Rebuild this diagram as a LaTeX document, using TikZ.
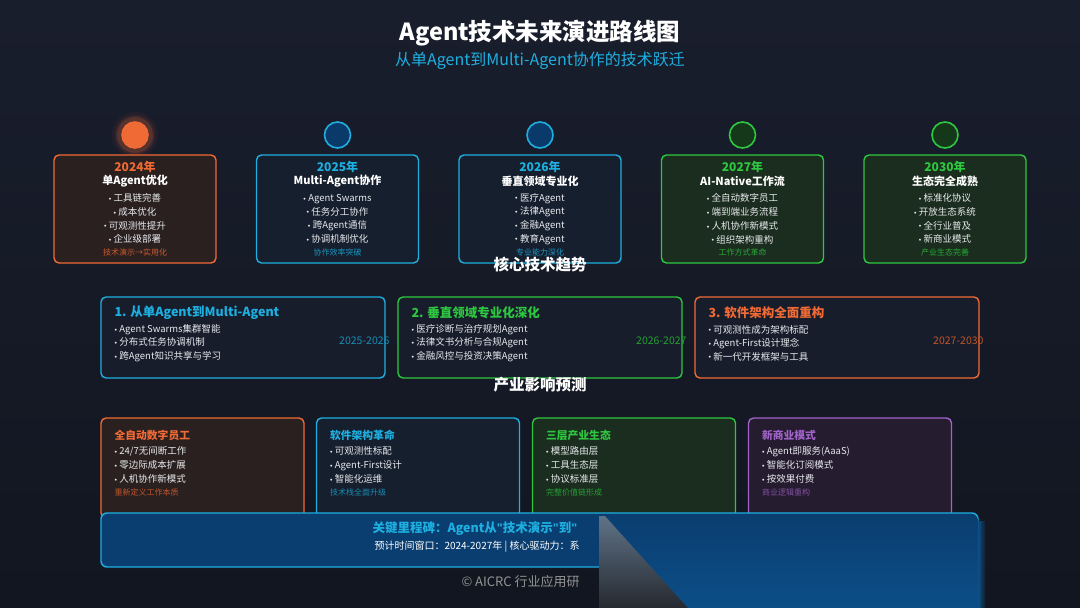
\documentclass[tikz,border=0pt]{standalone}
\usepackage{fontspec}
\setmainfont{Noto Sans CJK SC}
\newfontfamily\latinfont{Liberation Sans}
\usepackage{tikz}
\usetikzlibrary{calc,positioning}

\definecolor{bgtop}{RGB}{25,30,45}
\definecolor{bgbot}{RGB}{18,22,32}
\definecolor{ora}{RGB}{240,106,53}
\definecolor{cya}{RGB}{30,175,225}
\definecolor{grn}{RGB}{46,200,64}
\definecolor{pur}{RGB}{160,100,200}
\definecolor{orabg}{RGB}{42,32,32}
\definecolor{cyabg}{RGB}{22,31,46}
\definecolor{grnbg}{RGB}{27,45,31}
\definecolor{purbg}{RGB}{38,28,48}
\definecolor{cardbg}{RGB}{23,29,43}
\definecolor{milebg}{RGB}{10,62,112}
\definecolor{dotblue}{RGB}{10,58,105}
\definecolor{dotgreen}{RGB}{22,56,26}
\definecolor{txt}{RGB}{232,234,238}

\newcommand\fs[2]{\fontsize{#1}{#2}\selectfont}
\newcommand\bul{{\latinfont\fontsize{7}{7}\selectfont\raisebox{0.3pt}{•}}\hspace{2.5pt}}
\newcommand\dq{{\latinfont\bfseries"}}

\tikzset{
  every node/.style={inner sep=0pt, text=txt},
  tlbox/.style={draw=#1, line width=1.4pt, rounded corners=5pt, minimum width=162pt, minimum height=108pt},
  trbox/.style={draw=#1, fill=cardbg, line width=1.4pt, rounded corners=5pt, minimum width=284pt, minimum height=81pt},
  imbox/.style={draw=#1, line width=1.4pt, rounded corners=5pt, minimum width=203pt, minimum height=100pt},
  yeardot/.style={circle, draw=#1, line width=1.6pt, minimum size=26pt},
  heading/.style={font=\bfseries\fs{15.5}{18}, text=white},
}

\begin{document}
\begin{tikzpicture}[x=1pt,y=-1pt]
    \useasboundingbox (0,0) rectangle (1080,608);
    \shade[top color=bgtop, bottom color=bgbot] (0,0) rectangle (1080,608);

    \node[font=\bfseries\fs{23.5}{28}, text=white] (title) at (540,33) {Agent技术未来演进路线图};
    \node[font=\fs{16}{19}, text=cya] (subtitle) at (540,61) {从单Agent到Multi-Agent协作的技术跃迁};

    % timeline
    \foreach \r/\o in {23/0.05,20/0.1,18/0.18}
      \fill[ora, opacity=\o] (135,135) circle (\r);
    \foreach \i/\cx/\col/\fil/\dc/\yr/\ttl/\ba/\bb/\bc/\bd/\ft in {
      1/135/ora/orabg/ora/2024年/单Agent优化/工具链完善/成本优化/可观测性提升/企业级部署/技术演示→实用化,
      2/337.5/cya/cyabg/dotblue/2025年/Multi-Agent协作/Agent Swarms/任务分工协作/跨Agent通信/协调机制优化/协作效率突破,
      3/540/cya/cyabg/dotblue/2026年/垂直领域专业化/医疗Agent/法律Agent/金融Agent/教育Agent/专业能力深化,
      4/742.5/grn/grnbg/dotgreen/2027年/AI-Native工作流/全自动数字员工/端到端业务流程/人机协作新模式/组织架构重构/工作方式革命,
      5/945/grn/grnbg/dotgreen/2030年/生态完全成熟/标准化协议/开放生态系统/全行业普及/新商业模式/产业生态完善}
    {
      \node[yeardot=\col, fill=\dc] (dot\i) at (\cx,135) {};
      \node[tlbox=\col, fill=\fil] (tl\i) at (\cx,209) {};
      \node[font=\bfseries\fs{12}{14}, text=\col] (yr\i) at ($(tl\i.north)+(0,13)$) {\yr};
      \node[font=\bfseries\fs{11}{13}, text=white] (tt\i) at ($(tl\i.north)+(0,27)$) {\ttl};
      \node[font=\fs{9.5}{13.7}, align=center] (bl\i) at ($(tl\i.north)+(0,64.5)$) {\bul\ba\\\bul\bb\\\bul\bc\\\bul\bd};
      \node[font=\fs{8}{10}, text=\col!85!black] (ft\i) at ($(tl\i.north)+(0,98)$) {\ft};
    }

    % trends
    \node[heading] (trendhead) at (540,265) {核心技术趋势};
    \foreach \i/\cx/\col/\ttl/\ba/\bb/\bc/\yrs in {
      1/243/cya/1. 从单Agent到Multi-Agent/Agent Swarms集群智能/分布式任务协调机制/跨Agent知识共享与学习/2025-2026,
      2/540/grn/2. 垂直领域专业化深化/医疗诊断与治疗规划Agent/法律文书分析与合规Agent/金融风控与投资决策Agent/2026-2027,
      3/837/ora/3. 软件架构全面重构/可观测性成为架构标配/Agent-First设计理念/新一代开发框架与工具/2027-2030}
    {
      \node[trbox=\col] (tr\i) at (\cx,337.5) {};
      \node[anchor=west, font=\bfseries\fs{12.5}{15}, text=\col] (trt\i) at ($(tr\i.north west)+(14,16)$) {\ttl};
      \node[anchor=west, align=left, font=\fs{9.5}{13.5}] (trb\i) at ($(tr\i.north west)+(14,46.7)$) {\bul\ba\\\bul\bb\\\bul\bc};
      \node[anchor=east, font=\fs{10.5}{12}, text=\col!80!black] (try\i) at ($(tr\i.east)+(4,3)$) {\yrs};
    }

    % impact
    \node[heading] (impacthead) at (540,385) {产业影响预测};
    \foreach \i/\cx/\col/\fil/\ttl/\ba/\bb/\bc/\ft in {
      1/202.5/ora/orabg/全自动数字员工/{24/7无间断工作}/零边际成本扩展/人机协作新模式/重新定义工作本质,
      2/418/cya/cyabg/软件架构革命/可观测性标配/Agent-First设计/智能化运维/技术栈全面升级,
      3/634/grn/grnbg/三层产业生态/模型路由层/工具生态层/协议标准层/完整价值链形成,
      4/850/pur/purbg/新商业模式/Agent即服务(AaaS)/智能化订阅模式/按效果付费/商业逻辑重构}
    {
      \node[imbox=\col, fill=\fil] (im\i) at (\cx,468) {};
      \node[anchor=west, font=\bfseries\fs{10.8}{13}, text=\col] (imt\i) at ($(im\i.north west)+(14,18)$) {\ttl};
      \node[anchor=west, align=left, font=\fs{9.5}{14}] (imb\i) at ($(im\i.north west)+(14,48)$) {\bul\ba\\\bul\bb\\\bul\bc};
      \node[anchor=west, font=\fs{8}{10}, text=\col!80!black] (imf\i) at ($(im\i.north west)+(14,75)$) {\ft};
    }

    % milestone banner
    \node[draw=cya, fill=milebg, line width=1.4pt, rounded corners=6pt,
          minimum width=877pt, minimum height=54pt] (mile) at (539.5,540) {};
    \node[anchor=west, font=\bfseries\fs{12.5}{15}, text=cya] (milet) at ($(mile.north west)+(272,16)$) {关键里程碑：Agent从\dq 技术演示\dq 到\dq};
    \node[anchor=west, font=\fs{10}{12}, text=white] (mileb) at ($(mile.north west)+(274,34)$) {预计时间窗口：2024-2027年 | 核心驱动力：系};
    \node[anchor=west, font=\fs{13}{15}, text=gray!85] (credit) at ($(mile.south west)+(361,14)$) {© AICRC 行业应用研};

    % smeared corner over the lower right
    \shade[top color={rgb,255:red,95;green,115;blue,135}, bottom color={rgb,255:red,38;green,41;blue,48}]
      (599,516) -- (606,516) -- (690,608) -- (599,608) -- cycle;
    \shade[top color=milebg, bottom color={rgb,255:red,12;green,78;blue,135}]
      (604,514.7) -- (972,514.7) to[out=0,in=90] (978,520.5) -- (978,608) -- (688,608) -- cycle;
    \shade[left color={rgb,255:red,14;green,80;blue,135}, right color=bgbot] (978,521) rectangle (986,608);
\end{tikzpicture}
\end{document}
